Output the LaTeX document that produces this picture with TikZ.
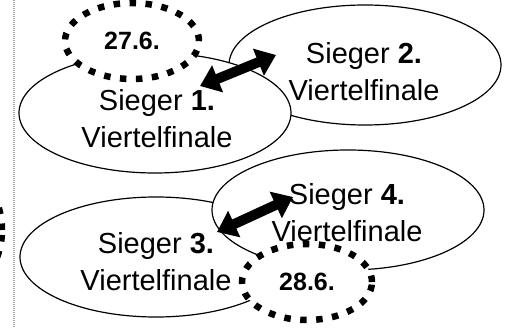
\documentclass[tikz,border=0pt]{standalone}
\usepackage{fontspec}
\setmainfont{Liberation Sans}
\usetikzlibrary{shapes.geometric,arrows.meta}
\begin{document}
\begin{tikzpicture}[x=1pt,y=-1pt,
  sieger/.style={draw=black, line width=1.2pt, fill=white, ellipse, minimum width=272pt, minimum height=120pt, inner sep=0pt},
  datum/.style={draw=black, line width=6.5pt, dash pattern=on 6.5pt off 9.5pt, fill=white, ellipse, inner sep=0pt, font=\fontsize{25}{30}\selectfont\bfseries},
  lbl/.style={align=center, inner sep=0pt, font=\fontsize{29}{37}\selectfont},
  duel/.style={line width=10pt, {Triangle[length=19pt,width=28pt]}-{Triangle[length=19pt,width=28pt]}},
  margin/.style={draw=black!35, line width=1.2pt, dash pattern=on 1pt off 1pt}]
\clip (0,0) rectangle (508,328);
\coordinate (mtop) at (14,0);
\coordinate (mbot) at (14,328);
\draw[margin] (mtop) -- (mbot);
\node[datum, minimum width=90pt, minimum height=120pt] (d0) at (-43,230) {};
% top pair
\node[sieger] (s2) at (365,65) {};
\node[lbl] (t2) at (364,71.5) {Sieger \textbf{2.}\\Viertelfinale};
\node[sieger] (s1) at (155,113) {};
\node[lbl] (t1) at (157,118.5) {Sieger \textbf{1.}\\Viertelfinale};
\node[datum, minimum width=134pt, minimum height=76pt] (d1) at (132,41) {27.6.};
\coordinate (a1) at (200,86);
\coordinate (a2) at (276,55);
\draw[duel] (a1) -- (a2);
% bottom pair
\node[sieger] (s3) at (156,257) {};
\node[lbl] (t3) at (156,262) {Sieger \textbf{3.}\\Viertelfinale};
\node[sieger] (s4) at (348,210) {};
\node[lbl] (t4) at (347,213) {Sieger \textbf{4.}\\Viertelfinale};
\node[datum, minimum width=130pt, minimum height=76pt] (d2) at (307,282) {28.6.};
\coordinate (b1) at (217,232);
\coordinate (b2) at (293,197);
\draw[duel] (b1) -- (b2);
\end{tikzpicture}
\end{document}
